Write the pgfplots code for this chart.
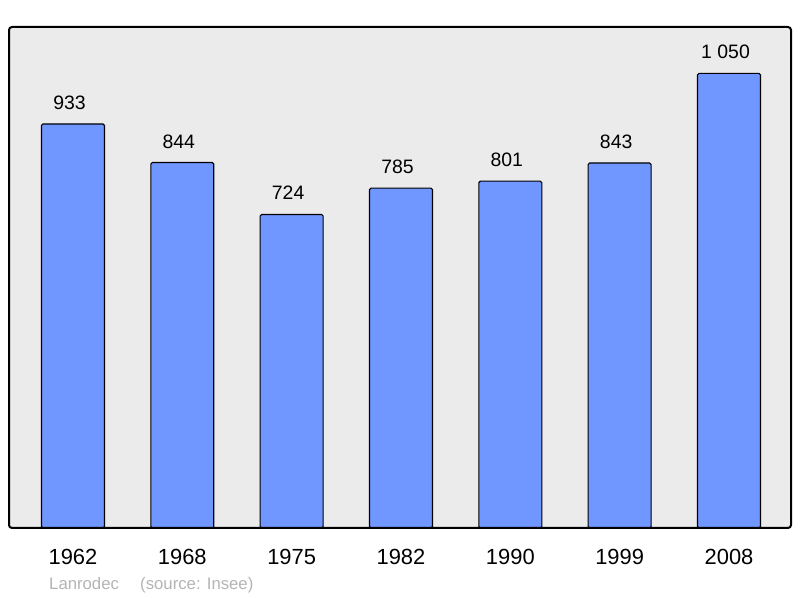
\documentclass[border=0pt]{standalone}
\usepackage{fontspec}
\setmainfont{Liberation Sans}
\usepackage{pgfplots}
\pgfplotsset{compat=1.18}
\definecolor{barblue}{RGB}{112,150,255}
\definecolor{bg}{RGB}{235,235,235}
\definecolor{foot}{RGB}{180,180,180}
\begin{document}
\begin{tikzpicture}[x=1bp,y=1bp]
\path (0,0) rectangle (800,598);
\begin{axis}[
  at={(9bp,70bp)}, anchor=south west,
  scale only axis, width=782bp, height=501bp,
  xmin=-0.585, xmax=6.567, ymin=0, ymax=1157,
  axis lines=none,
  ybar, bar width=0.576,
  xtick=\empty,
  ytick=\empty,
  /pgf/number format/assume math mode=true,
  clip=false,
  point meta=explicit symbolic,
  nodes near coords,
  every node near coord/.style={font=\fontsize{19.5}{23}\selectfont, anchor=base, inner sep=0pt, yshift=14.5bp, xshift=-3.5bp},
]
\fill[bg] (rel axis cs:0,0) rectangle (rel axis cs:1,1);
\addplot[fill=barblue, draw=black, line width=1.1bp, rounded corners=1.5bp] coordinates {
 (0,933) [933]
 (1,844) [844]
 (2,724) [724]
 (3,785) [785]
 (4,801) [801]
 (5,843) [843]
 (6,1050) [1 050]
};
\draw[line width=2bp, rounded corners=3bp] (rel axis cs:0,0) rectangle (rel axis cs:1,1);
\foreach \i/\l in {0/1962,1/1968,2/1975,3/1982,4/1990,5/1999,6/2008}{
  \edef\tmp{\noexpand\node[font=\noexpand\fontsize{22}{26}\noexpand\selectfont, anchor=base, inner sep=0pt] at (axis cs:\i,0) [yshift=-37bp] {\l};}\tmp
}
\end{axis}
\node[anchor=base west, text=foot, font=\fontsize{16.8}{19}\selectfont, inner sep=0] at (49,8) {Lanrodec};
\node[anchor=base west, text=foot, font=\fontsize{16.8}{19}\selectfont, inner sep=0] at (140,8) {(source: Insee)};
\end{tikzpicture}
\end{document}
